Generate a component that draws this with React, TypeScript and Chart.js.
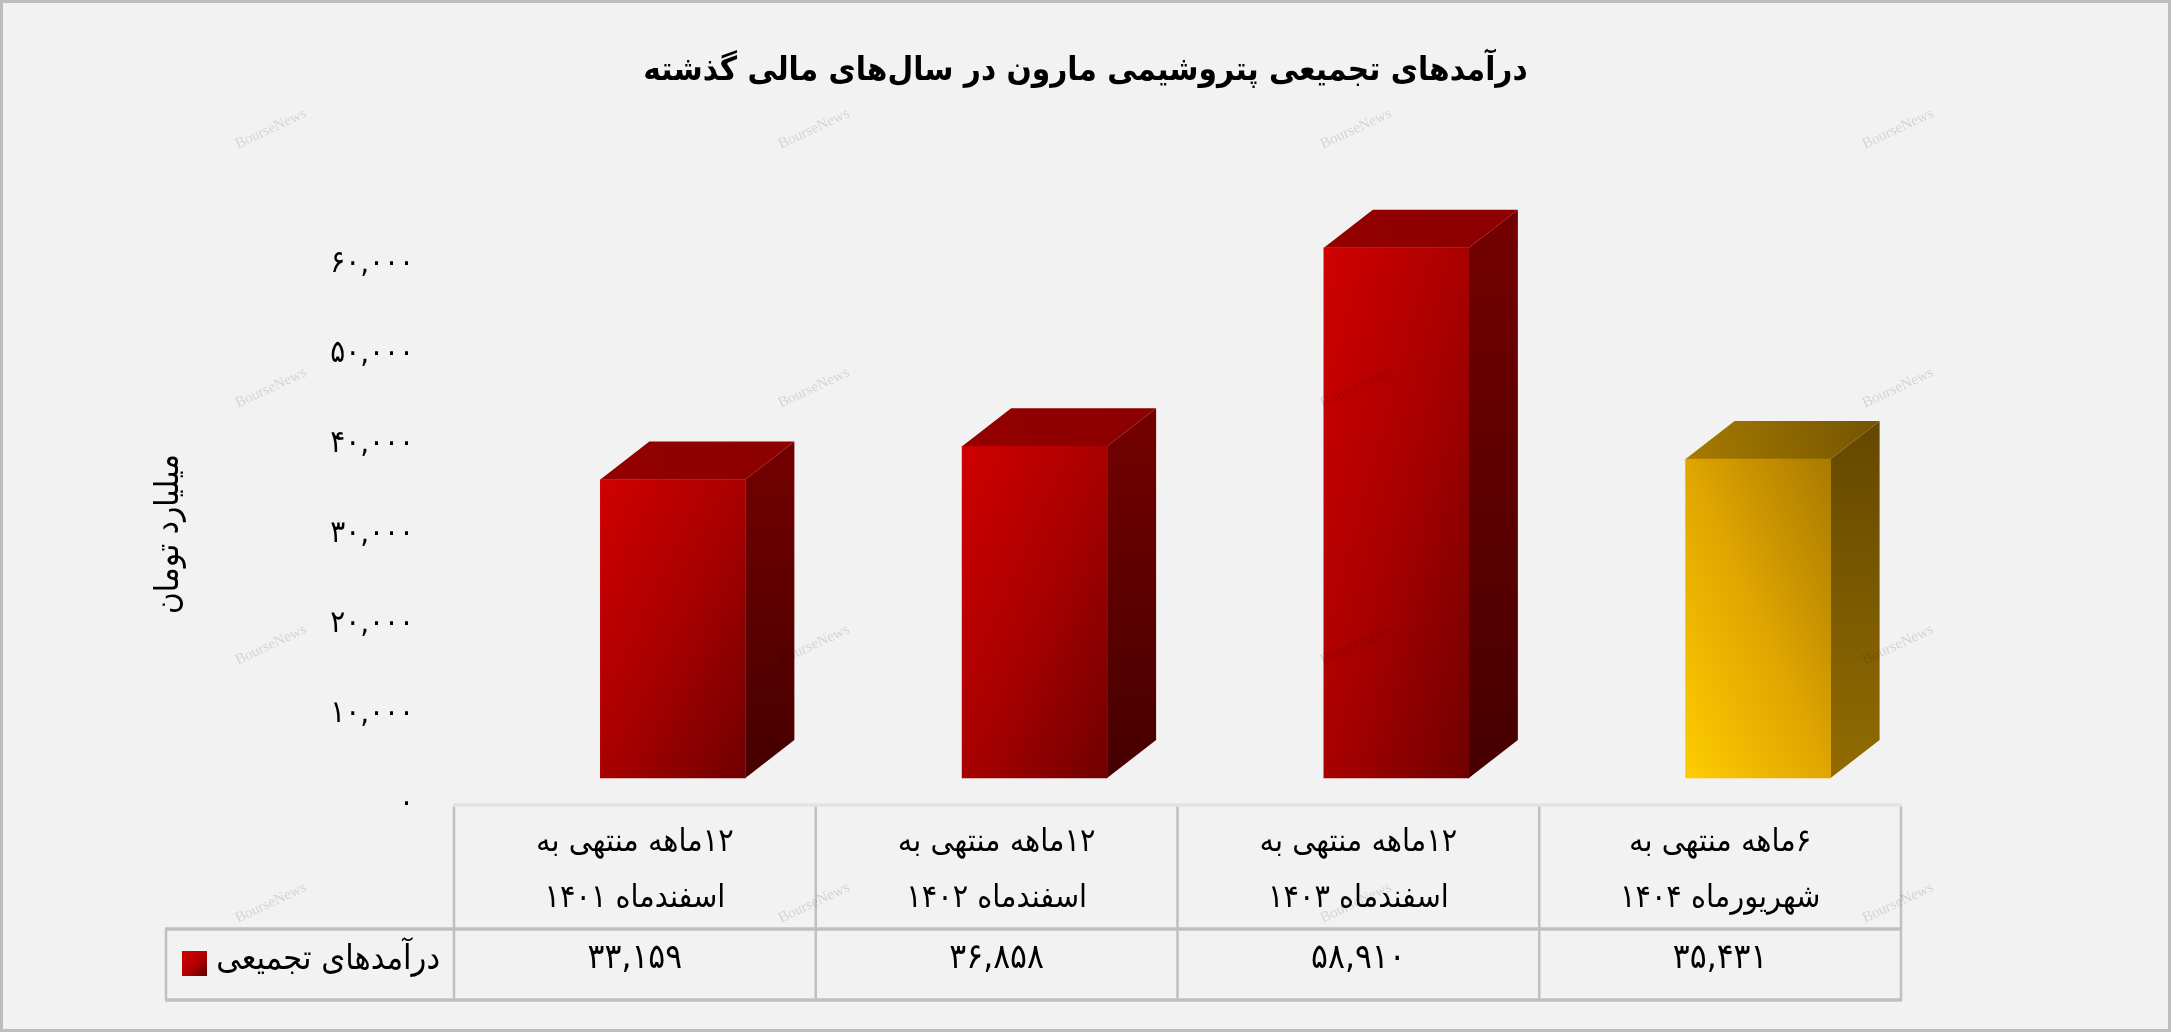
import React, { useEffect, useRef } from "react";
import { Chart, registerables } from "chart.js";

Chart.register(...registerables);

const chartTitle = "درآمدهای تجمیعی پتروشیمی مارون در سال‌های مالی گذشته";
const axisTitle = "میلیارد تومان";
const seriesName = "درآمدهای تجمیعی";
const categories = [
  ["۱۲ماهه منتهی به", "اسفندماه ۱۴۰۱"],
  ["۱۲ماهه منتهی به", "اسفندماه ۱۴۰۲"],
  ["۱۲ماهه منتهی به", "اسفندماه ۱۴۰۳"],
  ["۶ماهه منتهی به", "شهریورماه ۱۴۰۴"],
];
const revenue = [33159, 36858, 58910, 35431];
const redPalette = { a: "#d00000", m: "#a90000", b: "#700000", sideTop: "#740000", sideBottom: "#460000", topL: "#940000", topR: "#8c0000" };
const goldPalette = { a: "#ffcc00", m: "#e0a500", b: "#a87a00", sideTop: "#644800", sideBottom: "#926b00", topL: "#a87b00", topR: "#745400" };
const palettes = [redPalette, redPalette, redPalette, goldPalette];
const FONT = '"DejaVu Sans Condensed", "DejaVu Sans", sans-serif';
const persian = (s: string) => s.replace(/[0-9]/g, (d) => "۰۱۲۳۴۵۶۷۸۹"[+d]);
const fmt = (v: number) => persian(v.toLocaleString("en-US"));

const W = 2171, H = 1032, DX = 49, DY = 38, SHIFT = 0.105, BASE_GAP_UNITS = 2889;
const BAR_W = 145;

const scene = {
  id: "scene",
  beforeDraw(c: any) {
    const g = c.ctx;
    g.save();
    g.fillStyle = "#f2f2f2";
    g.fillRect(0, 0, W, H);
    g.strokeStyle = "#bdbdbd";
    g.lineWidth = 3;
    g.strokeRect(1.5, 1.5, W - 3, H - 3);
    g.restore();
  },
  beforeDatasetsDraw(c: any) {
    const g = c.ctx;
    const x = c.scales.x;
    g.save();
    // table
    const edges = [0, 1, 2, 3, 4].map((k) => x.getPixelForValue(k - 0.5 - SHIFT));
    const L = 166, T = 806, M = 929, B = 1000;
    g.strokeStyle = "#c0c0c0";
    g.lineWidth = 2.5;
    g.beginPath();
    edges.forEach((e) => { g.moveTo(e, T); g.lineTo(e, B); });
    g.moveTo(L, M); g.lineTo(L, B);
    g.stroke();
    g.lineWidth = 3.5;
    g.beginPath();
    g.moveTo(L - 1, M); g.lineTo(edges[4] + 1, M);
    g.moveTo(L - 1, B); g.lineTo(edges[4] + 1, B);
    g.stroke();
    g.strokeStyle = "#dfe3e8";
    g.lineWidth = 3.5;
    g.beginPath();
    g.moveTo(edges[0] - 1, T - 1); g.lineTo(edges[4] + 1, T - 1);
    g.stroke();
    // values row
    g.fillStyle = "#000";
    g.font = `35px ${FONT}`;
    g.textAlign = "center";
    g.textBaseline = "middle";
    revenue.forEach((v, i) => g.fillText(fmt(v), (edges[i] + edges[i + 1]) / 2, 959));
    // legend cell
    g.font = `34px ${FONT}`;
    g.textAlign = "right";
    g.fillText(seriesName, 440, 960);
    const sw = g.createLinearGradient(182, 951, 207, 976);
    sw.addColorStop(0, "#d00000");
    sw.addColorStop(0.55, "#b00000");
    sw.addColorStop(1, "#600000");
    g.fillStyle = sw;
    g.fillRect(182, 951, 25, 25);
    // 3D faces behind the front face
    c.getDatasetMeta(0).data.forEach((el: any, i: number) => {
      const { x: cx, y, base, width } = el.getProps(["x", "y", "base", "width"], true);
      const r = cx + width / 2, l = cx - width / 2;
      const p = palettes[i];
      const side = g.createLinearGradient(0, y - DY, 0, base);
      side.addColorStop(0, p.sideTop);
      side.addColorStop(1, p.sideBottom);
      g.fillStyle = side;
      g.beginPath();
      g.moveTo(r, y); g.lineTo(r + DX, y - DY); g.lineTo(r + DX, base - DY); g.lineTo(r, base);
      g.closePath();
      g.fill();
      const top = g.createLinearGradient(l, y, r + DX, y - DY);
      top.addColorStop(0, p.topL);
      top.addColorStop(1, p.topR);
      g.fillStyle = top;
      g.beginPath();
      g.moveTo(l, y); g.lineTo(l + DX, y - DY); g.lineTo(r + DX, y - DY); g.lineTo(r, y);
      g.closePath();
      g.fill();
    });
    g.restore();
  },
  afterDraw(c: any) {
    const g = c.ctx;
    g.save();
    g.fillStyle = "rgba(0,0,0,0.13)";
    g.font = '15px "Liberation Serif", serif';
    g.textAlign = "center";
    g.textBaseline = "middle";
    g.direction = "ltr";
    [129, 388, 645, 903].forEach((wy) =>
      [271, 814, 1356, 1898].forEach((wx) => {
        g.save();
        g.translate(wx, wy);
        g.rotate((-25 * Math.PI) / 180);
        g.fillText("BourseNews", 0, 0);
        g.restore();
      })
    );
    g.restore();
  },
};

export default function App() {
  const ref = useRef<HTMLCanvasElement | null>(null);
  useEffect(() => {
    document.body.style.margin = "0";
    const chart = new Chart(ref.current as HTMLCanvasElement, {
      type: "bar",
      data: {
        datasets: [
          {
            label: seriesName,
            data: revenue.map((v, i) => ({ x: i, y: v })),
            barThickness: BAR_W,
            clip: false,
            borderWidth: 0,
            backgroundColor: (ctx: any) => {
              const i = ctx.dataIndex;
              const p = palettes[i ?? 0];
              if (i === undefined) return p.a;
              const { x, y } = ctx.chart.scales;
              if (!x || !y) return p.a;
              const cx = x.getPixelForValue(i);
              const top = y.getPixelForValue(revenue[i]);
              const bottom = y.getPixelForValue(0);
              if (![cx, top, bottom].every(Number.isFinite)) return p.a;
              const yellow = i === 3;
              const h = bottom - top;
              const norm = Math.hypot(h, BAR_W);
              const ux = h / norm, uy = BAR_W / norm;
              const len = BAR_W * ux + h * uy;
              const x0 = cx - BAR_W / 2;
              const y0 = yellow ? bottom : top;
              const dir = yellow ? -1 : 1;
              const grad = ctx.chart.ctx.createLinearGradient(
                x0, y0, x0 + len * ux, y0 + dir * len * uy
              );
              grad.addColorStop(0, p.a);
              grad.addColorStop(0.5, p.m);
              grad.addColorStop(1, p.b);
              return grad;
            },
          },
        ],
      },
      options: {
        responsive: false,
        animation: false,
        layout: { padding: 0 },
        plugins: {
          legend: { display: false },
          tooltip: { enabled: false },
          title: {
            display: true,
            text: chartTitle,
            color: "#000",
            fullSize: true,
            font: { family: FONT, size: 33, weight: "bold" },
            padding: { top: 52, bottom: 172.4 },
          },
        },
        scales: {
          x: {
            type: "linear",
            position: "bottom",
            min: -0.5 - SHIFT,
            max: 3.5 - SHIFT,
            offset: false,
            grid: { display: false, drawTicks: false },
            border: { display: false },
            afterBuildTicks: (s: any) => {
              s.ticks = categories.map((_, i) => ({ value: i - SHIFT }));
            },
            afterFit: (s: any) => { s.height = H - 804; },
            ticks: {
              autoSkip: false,
              maxRotation: 0,
              minRotation: 0,
              padding: 11,
              color: "#000",
              font: { family: FONT, size: 32, lineHeight: 1.75 },
              callback: (_v: any, i: number) => categories[i],
            },
          },
          y: {
            type: "linear",
            display: false,
            min: -BASE_GAP_UNITS,
            max: 60000 - BASE_GAP_UNITS,
          },
          yTicks: {
            type: "linear",
            position: "left",
            min: 0,
            max: 60000,
            afterFit: (s: any) => { s.width = 454; },
            grid: { display: false, drawTicks: false },
            border: { display: false },
            title: {
              display: true,
              text: axisTitle,
              color: "#000",
              font: { family: FONT, size: 33, weight: "normal" },
              padding: { top: 150, bottom: 0 },
            },
            ticks: {
              stepSize: 10000,
              padding: 40,
              color: "#000",
              font: { family: FONT, size: 31 },
              callback: (v: any) => fmt(Number(v)),
            },
          },
          rightGutter: {
            type: "linear",
            position: "right",
            afterFit: (s: any) => { s.width = W - 1901; },
            grid: { display: false, drawTicks: false },
            border: { display: false },
            ticks: { display: false },
          },
        },
      } as any,
      plugins: [scene],
    } as any);
    return () => chart.destroy();
  }, []);
  return <canvas ref={ref} width={W} height={H} dir="rtl" style={{ display: "block", width: W, height: H }} />;
}
